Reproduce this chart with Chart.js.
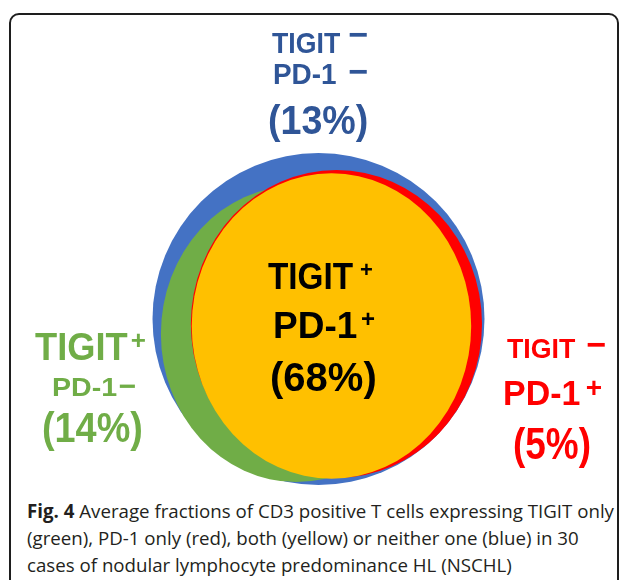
<!DOCTYPE html>
<html>
<head>
<meta charset="utf-8">
<script src="https://cdn.jsdelivr.net/npm/chart.js@4.4.1/dist/chart.umd.min.js"></script>
<style>
  body { margin: 0; background: #fff; width: 627px; height: 580px; overflow: hidden; position: relative; }
  #frame { position: absolute; left: 9px; top: 13px; width: 610px; height: 620px; border: 2px solid #1e1e1e; border-radius: 10px; box-sizing: border-box; }
  #wrap { position: absolute; left: 0; top: 0; width: 627px; height: 490px; }
  .t { position: absolute; font-family: "Liberation Sans", Arial, sans-serif; font-weight: bold; line-height: 1; white-space: nowrap; transform-origin: 0 0; }
  #cap { position: absolute; left: 27px; top: 497px; font-family: "Open Sans", sans-serif; font-size: 18.7px; line-height: 27px; color: #231f20; white-space: nowrap; }
</style>
</head>
<body>
<div id="frame"></div>
<div id="wrap"><canvas id="venn"></canvas></div>
<div id="cap"><b>Fig. 4</b> Average fractions of CD3 positive T cells expressing TIGIT only<br>(green), PD-1 only (red), both (yellow) or neither one (blue) in 30<br>cases of nodular lymphocyte predominance HL (NSCHL)</div>
<script>
// subsets, blue circle = all CD3+ T cells (radius 100 units)
const regions = ['TIGIT- PD-1-', 'TIGIT+ PD-1-', 'TIGIT- PD-1+', 'TIGIT+ PD-1+'];
const fractions = [13, 14, 5, 68];
const centerX = [0, -13.6, 10.8, 7.8];
const centerY = [0, -9.0, -3.0, -4.2];
const radius = [100, 89.2, 92.8, 92];
const colors = ['#4472C4', '#70AD47', '#FF0000', '#FFC000'];

// the inner shapes in the figure are slightly narrower than tall
const squeeze = { 1: 0.912, 2: 0.945, 3: 0.915 };

function pxPerUnit(chart) {
  const s = chart.scales.y;
  return Math.abs(s.getPixelForValue(0) - s.getPixelForValue(1));
}

const squash = {
  id: 'squash',
  beforeDatasetDraw(chart, args) {
    const k = chart.data.datasets[args.index].squeeze;
    const pt = args.meta.data[0];
    const ctx = chart.ctx;
    ctx.save();
    if (k && pt) {
      ctx.translate(pt.x, pt.y);
      ctx.scale(k, 1);
      ctx.translate(-pt.x, -pt.y);
    }
  },
  afterDatasetDraw(chart) {
    chart.ctx.restore();
  }
};

const datasets = regions.map((name, i) => ({
  label: name + ' (' + fractions[i] + '%)',
  data: [{ x: centerX[i], y: centerY[i] }],
  backgroundColor: colors[i],
  borderWidth: 0,
  squeeze: squeeze[i],
  order: 4 - i,
  clip: false
}));

const chart = new Chart(document.getElementById('venn'), {
  type: 'bubble',
  data: { datasets: datasets },
  plugins: [squash],
  options: {
    responsive: true,
    maintainAspectRatio: false,
    animation: false,
    events: [],
    layout: { padding: 0, autoPadding: false },
    plugins: { legend: { display: false }, tooltip: { enabled: false } },
    scales: {
      x: { type: 'linear', display: false, min: -191.87, max: 185.84 },
      y: { type: 'linear', display: false, min: -103.01, max: 192.17 }
    }
  }
});
// bubble radius is in pixels, so convert the radius units through the y scale
const k = pxPerUnit(chart);
chart.data.datasets.forEach((d, i) => { d.data[0].r = radius[i] * k; });
chart.update();

// labels: text, left x, cap top, font size, horizontal scale, colour
function put(txt, x, capTop, size, sx, color) {
  const d = document.createElement('div');
  d.className = 't';
  d.textContent = txt;
  d.style.left = x + 'px';
  d.style.top = (capTop - 0.13 * size) + 'px';
  d.style.fontSize = size + 'px';
  d.style.color = color;
  d.style.transform = 'scaleX(' + sx + ')';
  document.body.appendChild(d);
}
// signs placed by their centre
function sign(txt, x, cy, size, color) {
  const d = document.createElement('div');
  d.className = 't';
  d.textContent = txt;
  d.style.left = (x - 0.045 * size) + 'px';
  d.style.top = (cy - 0.5165 * size) + 'px';
  d.style.fontSize = size + 'px';
  d.style.color = color;
  document.body.appendChild(d);
}

const blueTxt = '#2F5597', greenTxt = '#70AD47', redTxt = '#FF0000';

put('TIGIT', 272, 32, 30, 0.89, blueTxt);
sign('\u2212', 350, 35, 34, blueTxt);
put('PD-1', 273, 63, 30, 0.93, blueTxt);
sign('\u2212', 350, 71.5, 34, blueTxt);
put('(' + fractions[0] + '%)', 268, 105, 40, 0.94, blueTxt);

put('TIGIT', 35, 332, 39, 0.93, greenTxt);
sign('+', 132, 340, 26, greenTxt);
put('PD-1', 52, 377, 26, 1.1, greenTxt);
sign('\u2212', 120, 386.5, 30, greenTxt);
put('(' + fractions[1] + '%)', 42, 412, 42, 0.9, greenTxt);

put('TIGIT', 507, 340, 27, 0.99, redTxt);
sign('\u2212', 588, 344.5, 34, redTxt);
put('PD-1', 503, 380, 35, 0.97, redTxt);
sign('+', 587, 388.5, 28, redTxt);
put('(' + fractions[2] + '%)', 513, 428, 44, 0.84, redTxt);

put('TIGIT', 268, 263, 37, 0.9, '#000');
sign('+', 361, 270, 22, '#000');
put('PD-1', 273, 312, 37, 1.0, '#000');
sign('+', 362, 319, 24, '#000');
put('(' + fractions[3] + '%)', 270, 362, 40, 1.0, '#000');
</script>
</body>
</html>
